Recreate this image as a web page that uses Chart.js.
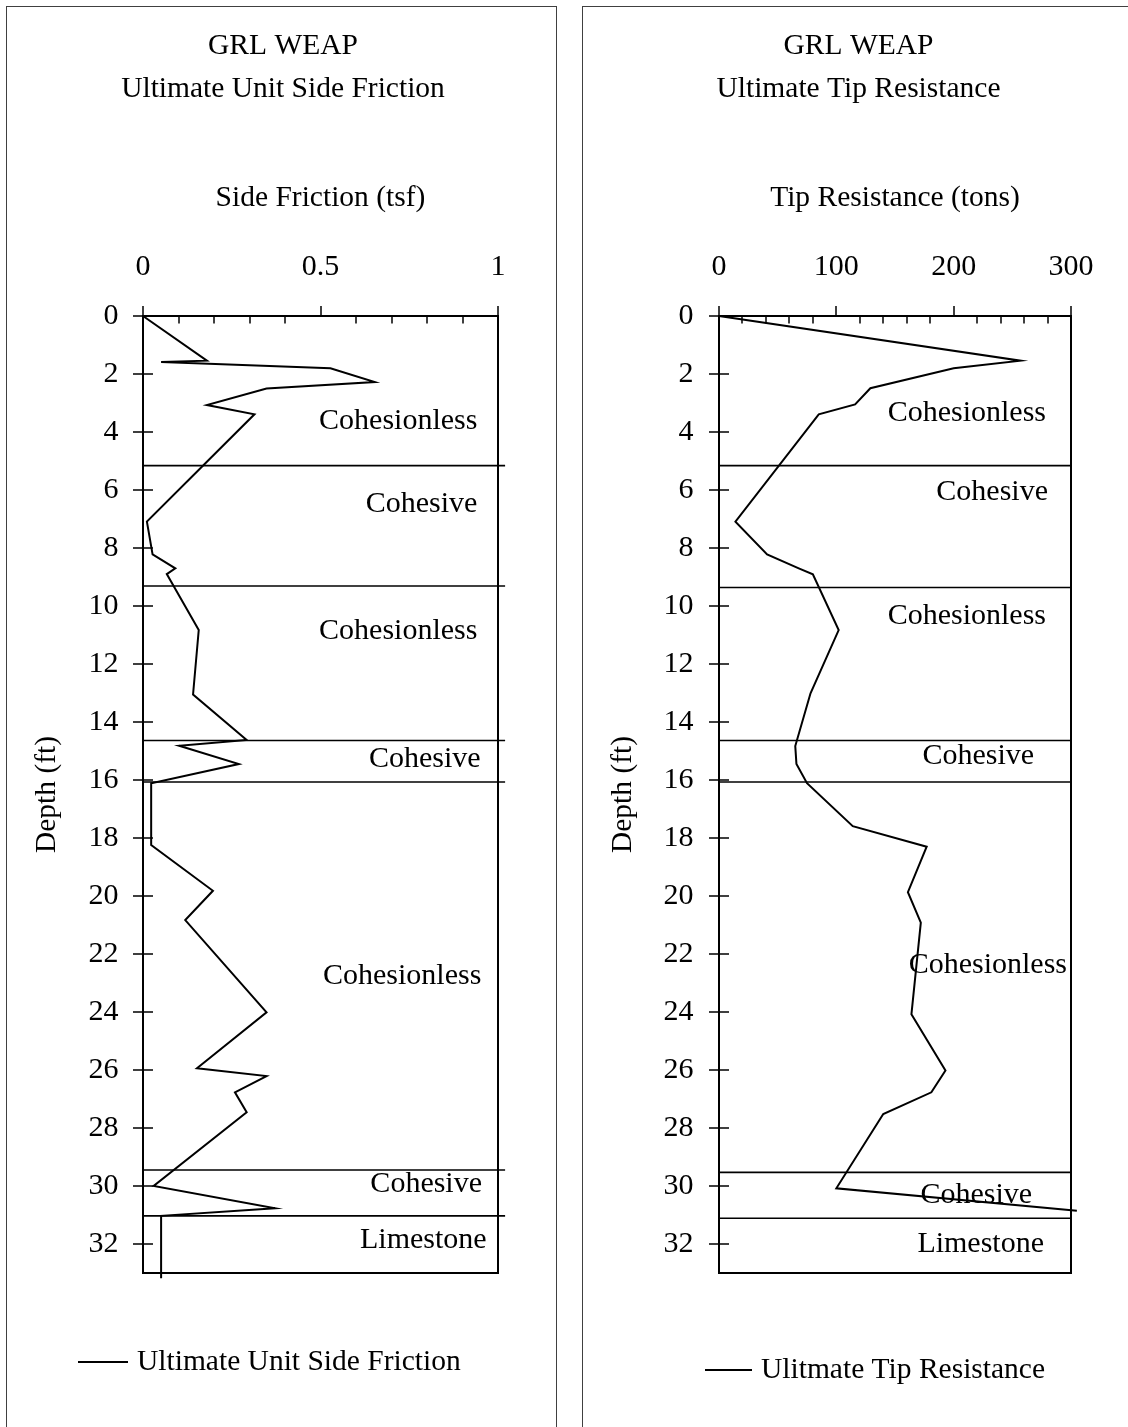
<!DOCTYPE html>
<html>
<head>
<meta charset="utf-8">
<title>GRL WEAP – Ultimate Unit Side Friction and Tip Resistance</title>
<script src="https://cdn.jsdelivr.net/npm/chart.js@4.4.1/dist/chart.umd.min.js"></script>
<style>
  html, body { margin: 0; padding: 0; background: #fff; }
  #page { position: relative; width: 1128px; height: 1427px; overflow: hidden; }
  .panel { position: absolute; top: 6px; height: 1500px; border: 1px solid #404040; box-sizing: border-box; }
  #panelSide { left: 6px; width: 551px; }
  #panelTip { left: 582px; width: 600px; }
  canvas { position: absolute; top: 0; }
  #sideChart { left: 0; }
  #tipChart { left: 564px; }
</style>
</head>
<body>
<div id="page">
  <div class="panel" id="panelSide"></div>
  <div class="panel" id="panelTip"></div>
  <canvas id="sideChart" width="564" height="1427"></canvas>
  <canvas id="tipChart" width="564" height="1427"></canvas>
</div>
<script>
// ---- Ultimate unit side friction (tsf) against depth (ft) ----
const sideDepth    = [0, 1.54, 1.59, 1.80, 2.28, 2.50, 3.07, 3.39, 7.09, 8.22, 8.70, 8.90, 10.83, 13.05, 14.62, 14.82, 15.45, 16.11, 18.24, 19.82, 20.83, 24.01, 25.94, 26.21, 26.77, 27.46, 30.00, 30.77, 31.03, 33.18];
const sideFriction = [0, 0.18, 0.051, 0.528, 0.653, 0.348, 0.18, 0.314, 0.011, 0.027, 0.091, 0.067, 0.157, 0.141, 0.292, 0.102, 0.270, 0.023, 0.023, 0.197, 0.119, 0.348, 0.152, 0.348, 0.259, 0.292, 0.030, 0.372, 0.051, 0.051];

// ---- Ultimate tip resistance (tons) against depth (ft) ----
const tipDepth      = [0, 1.54, 1.80, 2.49, 3.05, 3.39, 7.09, 8.22, 8.70, 8.91, 10.83, 13.01, 14.83, 15.45, 16.11, 17.59, 18.30, 19.87, 20.92, 24.08, 26.02, 26.77, 27.52, 30.08, 30.85];
const tipResistance = [0, 257, 200, 129, 116, 85, 14, 41, 68, 80, 102, 78, 65, 66, 75, 114, 177, 161, 172, 164, 193, 181, 140, 100, 305];

// ---- Soil layer boundaries (ft) and layer names ----
const sideLayerTops = [5.16, 9.31, 14.64, 16.07, 29.45, 31.03];
const tipLayerTops  = [5.16, 9.36, 14.64, 16.07, 29.53, 31.11];
const sideLayerLineEnd = 1.02;
const tipLayerLineEnd  = 300;

const layerNames = ['Cohesionless', 'Cohesive', 'Cohesionless', 'Cohesive', 'Cohesionless', 'Cohesive', 'Limestone'];
const sideLayerLabelDepth = [3.61, 6.48, 10.86, 15.28, 22.78, 29.93, 31.86];
const sideLayerLabelRight = [0.942, 0.942, 0.942, 0.951, 0.953, 0.955, 0.968];
const tipLayerLabelDepth  = [3.34, 6.09, 10.34, 15.17, 22.38, 30.31, 32.0];
const tipLayerLabelRight  = [278.7, 280.4, 278.7, 268.5, 296.6, 266.8, 277.0];

// ---- Axis ranges and tick steps ----
const depthMax = 33, depthStep = 2;
const sideMax = 1, sideStep = 0.5, sideMinorStep = 0.1;
const tipMax = 300, tipStep = 100, tipMinorStep = 20;

const SERIF = "'Liberation Serif', 'Times New Roman', serif";
Chart.defaults.font.family = SERIF;
Chart.defaults.color = '#000';

// Plot frame with Excel-style ticks: major outside on top, minor inside, crossing on depth axis
const frameTicks = {
  id: 'frameTicks',
  afterDatasetsDraw(chart, args, opts) {
    const { ctx, chartArea: a, scales: { x, y } } = chart;
    ctx.save();
    ctx.strokeStyle = '#000';
    ctx.lineWidth = 1.5;
    ctx.beginPath();
    x.ticks.forEach(t => {
      const px = Math.round(x.getPixelForValue(t.value));
      ctx.moveTo(px, a.top - 10);
      ctx.lineTo(px, a.top);
    });
    const n = Math.round((x.max - x.min) / opts.minorStep);
    const perMajor = Math.round(opts.majorStep / opts.minorStep);
    for (let i = 1; i < n; i++) {
      if (i % perMajor === 0) continue;
      const px = Math.round(x.getPixelForValue(x.min + i * opts.minorStep));
      ctx.moveTo(px, a.top);
      ctx.lineTo(px, a.top + 7.5);
    }
    y.ticks.forEach(t => {
      const py = Math.round(y.getPixelForValue(t.value));
      ctx.moveTo(a.left - 10, py);
      ctx.lineTo(a.left + 10, py);
    });
    ctx.stroke();
    ctx.lineWidth = 2;
    ctx.strokeRect(a.left, a.top, a.right - a.left, a.bottom - a.top);
    ctx.restore();
  }
};

// Soil layer names, right-aligned inside each layer
const layerLabels = {
  id: 'layerLabels',
  afterDatasetsDraw(chart, args, opts) {
    const { ctx, scales: { x, y } } = chart;
    ctx.save();
    ctx.fillStyle = '#000';
    ctx.font = '30px ' + SERIF;
    ctx.textAlign = 'right';
    ctx.textBaseline = 'middle';
    opts.names.forEach((name, i) => {
      ctx.fillText(name, x.getPixelForValue(opts.right[i]), y.getPixelForValue(opts.depth[i]));
    });
    ctx.restore();
  }
};

// Series key below the plot: a line sample followed by the series name
const seriesKey = {
  id: 'seriesKey',
  afterDraw(chart, args, opts) {
    const { ctx } = chart;
    const ds = chart.data.datasets[0];
    ctx.save();
    ctx.strokeStyle = ds.borderColor;
    ctx.lineWidth = 2;
    ctx.beginPath();
    ctx.moveTo(opts.lineFrom, opts.y);
    ctx.lineTo(opts.lineTo, opts.y);
    ctx.stroke();
    ctx.fillStyle = '#000';
    ctx.font = '29.5px ' + SERIF;
    ctx.textAlign = 'left';
    ctx.textBaseline = 'middle';
    ctx.fillText(opts.text || ds.label, opts.textX, opts.y);
    ctx.restore();
  }
};

function layerDatasets(tops, xEnd) {
  return tops.map(d => ({
    label: 'layer ' + d,
    data: [{ x: 0, y: d }, { x: xEnd, y: d }],
    showLine: true, borderColor: '#000', borderWidth: 1.6, pointRadius: 0, clip: false
  }));
}

// Plain number labels: 0, 0.5, 1 rather than 0, 0.5, 1.0
const plainNumber = v => String(Number(v.toFixed(3)));

function buildChart(id, s) {
  return new Chart(document.getElementById(id), {
    type: 'scatter',
    data: {
      datasets: [
        {
          label: s.seriesLabel,
          data: s.depth.map((d, i) => ({ x: s.values[i], y: d })),
          showLine: true, borderColor: '#000', borderWidth: 2,
          pointRadius: 0, tension: 0, clip: false
        },
        ...layerDatasets(s.layerTops, s.layerEnd)
      ]
    },
    options: {
      responsive: false,
      devicePixelRatio: 1,
      animation: false,
      events: [],
      layout: { padding: s.padding },
      scales: {
        x: {
          type: 'linear', position: 'top', min: 0, max: s.xMax,
          grid: { display: false, drawTicks: false },
          border: { display: false },
          ticks: { stepSize: s.xStep, padding: 31, maxRotation: 0, font: { size: 30, lineHeight: 1.2 }, callback: plainNumber },
          title: { display: true, text: s.xTitle, font: { size: 29.5, lineHeight: 1.2 }, padding: { top: 69.5, bottom: 0 } },
          afterFit(scale) { scale.height = 204.8; }
        },
        y: {
          type: 'linear', reverse: true, min: 0, max: depthMax,
          grid: { display: false, drawTicks: false },
          border: { display: false },
          ticks: { stepSize: depthStep, includeBounds: false, padding: s.yTickPad, font: { size: 30, lineHeight: 1.2 }, callback: plainNumber },
          title: { display: true, text: 'Depth (ft)', font: { size: 29.5, lineHeight: 1.2 }, padding: { top: s.yTitlePad, bottom: 0 } },
          afterFit(scale) { scale.width = s.yWidth; }
        }
      },
      plugins: {
        title: {
          display: true, text: ['GRL WEAP', s.title], color: '#000',
          font: { size: 29.5, weight: 'normal', lineHeight: 1.4576 },
          padding: { top: 25.2, bottom: 0 }
        },
        legend: { display: false },
        tooltip: { enabled: false },
        frameTicks: { majorStep: s.xStep, minorStep: s.xMinor },
        layerLabels: { names: layerNames, depth: s.labelDepth, right: s.labelRight },
        seriesKey: s.key
      }
    },
    plugins: [frameTicks, layerLabels, seriesKey]
  });
}

buildChart('sideChart', {
  title: 'Ultimate Unit Side Friction',
  seriesLabel: 'Ultimate Unit Side Friction',
  xTitle: 'Side Friction (tsf)',
  depth: sideDepth, values: sideFriction,
  layerTops: sideLayerTops, layerEnd: sideLayerLineEnd,
  labelDepth: sideLayerLabelDepth, labelRight: sideLayerLabelRight,
  xMax: sideMax, xStep: sideStep, xMinor: sideMinorStep,
  padding: { left: 68, right: 66, top: 0, bottom: 154 },
  yWidth: 75, yTickPad: 24.4, yTitlePad: -38.5,
  key: { lineFrom: 78, lineTo: 128, textX: 137, y: 1362 }
});

buildChart('tipChart', {
  title: 'Ultimate Tip Resistance',
  seriesLabel: 'Ultimate Tip Resistance',
  xTitle: 'Tip Resistance (tons)',
  depth: tipDepth, values: tipResistance,
  layerTops: tipLayerTops, layerEnd: tipLayerLineEnd,
  labelDepth: tipLayerLabelDepth, labelRight: tipLayerLabelRight,
  xMax: tipMax, xStep: tipStep, xMinor: tipMinorStep,
  padding: { left: 82, right: 57, top: 0, bottom: 154 },
  yWidth: 73, yTickPad: 25.5, yTitlePad: -40,
  key: { lineFrom: 141, lineTo: 188, textX: 197, y: 1370, text: 'Ulitmate Tip Resistance' }
});
</script>
</body>
</html>
